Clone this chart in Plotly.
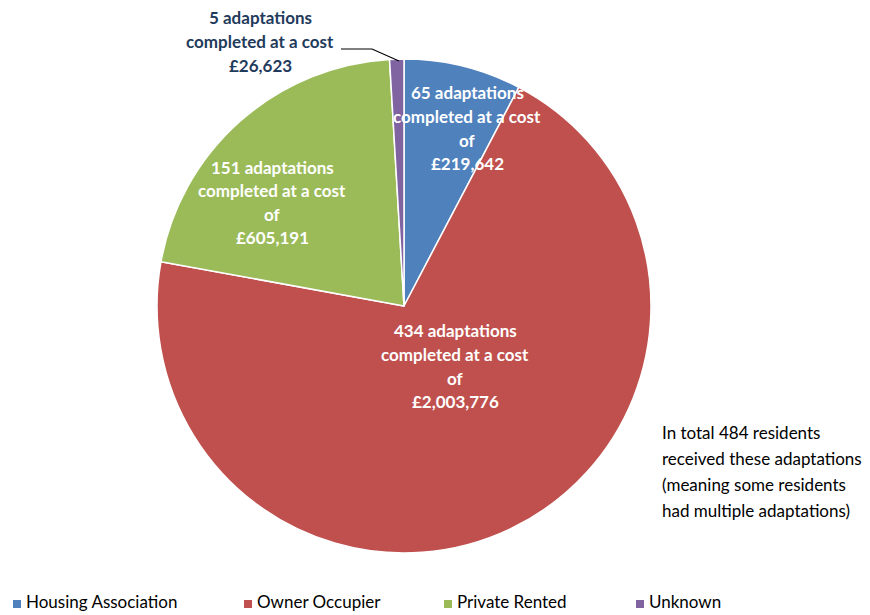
import plotly.graph_objects as go

categories = ["Housing Association", "Owner Occupier", "Private Rented", "Unknown"]
counts = [65, 434, 151, 5]
costs = [219642, 2003776, 605191, 26623]
colors = ["#4F81BD", "#C0504D", "#9BBB59", "#8064A2"]
note_lines = ["In total 484 residents", "received these adaptations",
              "(meaning some residents", "had multiple adaptations)"]

W, H = 870, 615
OX, OY = -8, -5  # page offset compensation
TY = -4          # extra text baseline compensation

def px(x):
    return (x + OX) / W

def py(y):
    return 1 - (y + OY) / H

fig = go.Figure(go.Pie(
    labels=categories,
    values=costs,
    sort=False,
    direction="clockwise",
    rotation=0,
    marker=dict(colors=colors, line=dict(color="white", width=1.5)),
    textinfo="none",
    hoverinfo="label+value",
    domain=dict(x=[px(157), px(651)], y=[py(550), py(56)]),
    showlegend=False,
))

def label_lines(i):
    lines = [f"{counts[i]} adaptations", "completed at a cost"]
    if i != 3:
        lines.append("of")
    lines.append(f"£{costs[i]:,}")
    return lines

FONT = "Lato, sans-serif"
# label first-line centre positions (styling)
label_pos = {0: (467, 94), 1: (455, 332), 2: (272, 168), 3: (260, 19)}
line_gap = 23.6
annotations = []
for i in range(4):
    cx, y0 = label_pos[i]
    color = "#1F3B5C" if i == 3 else "white"
    for k, t in enumerate(label_lines(i)):
        annotations.append(dict(
            x=px(cx), y=py(y0 + TY + k * line_gap), xref="paper", yref="paper",
            text=f"<b>{t}</b>", showarrow=False, xanchor="center", yanchor="middle",
            font=dict(family=FONT, size=17, color=color)))

for k, t in enumerate(note_lines):
    annotations.append(dict(
        x=px(660), y=py(433 + TY + k * 26.2), xref="paper", yref="paper",
        text=t, showarrow=False, xanchor="left", yanchor="middle",
        font=dict(family=FONT, size=17, color="black")))

# manual legend
legend_sq_x = [13, 244, 444, 636]
shapes = [dict(type="path", xref="paper", yref="paper",
               path=f"M {px(341)} {py(46)} L {px(372)} {py(46)} L {px(399)} {py(58)}",
               line=dict(color="black", width=1.2))]
for i, x0 in enumerate(legend_sq_x):
    shapes.append(dict(type="rect", xref="paper", yref="paper",
                       x0=px(x0), x1=px(x0 + 8), y0=py(605), y1=py(597),
                       fillcolor=colors[i], line=dict(width=0)))
    annotations.append(dict(
        x=px(x0 + 11), y=py(602 + TY), xref="paper", yref="paper",
        text=categories[i], showarrow=False, xanchor="left", yanchor="middle",
        font=dict(family=FONT, size=17, color="black")))

fig.update_layout(
    width=W, height=H,
    margin=dict(l=0, r=0, t=0, b=0),
    paper_bgcolor="white",
    annotations=annotations,
    shapes=shapes,
    showlegend=False,
)

fig.write_html("out.html")
